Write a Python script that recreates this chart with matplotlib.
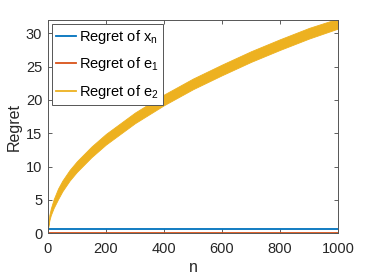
import matplotlib.pyplot as plt

plt.rcParams['font.family'] = ['Liberation Sans', 'DejaVu Sans']
plt.rcParams['mathtext.fontset'] = 'custom'
plt.rcParams['mathtext.rm'] = 'Liberation Sans'

# values
n_pts = [0, 5, 10, 20, 35, 50, 75, 100, 150, 200, 300, 400, 500, 600, 700, 800, 900, 1000]
e2_low = [0.5, 1.9, 2.7, 3.8, 5.1, 6.3, 7.9, 9.2, 11.4, 13.3, 16.5, 19.2, 21.6, 23.7, 25.7, 27.5, 29.2, 30.7]
e2_high = [0.7, 2.7, 3.7, 5.1, 6.7, 7.9, 9.5, 10.8, 13.0, 14.9, 18.1, 20.8, 23.2, 25.3, 27.3, 29.1, 30.8, 32.2]
n_ends = [0, 1000]
xn_regret = [0.6, 0.6]
e1_regret = [0.05, 0.05]

blue = '#0072BD'
red = '#D95319'
yellow = '#EDB120'

fig = plt.figure(figsize=(3.74, 2.8), dpi=100)
ax = fig.add_axes([0.128, 0.167, 0.776, 0.762])

ax.plot(n_ends, xn_regret, color=blue, lw=1.3, label='Regret of x$_\\mathregular{n}$')
ax.plot(n_ends, e1_regret, color=red, lw=1.3, label='Regret of e$_\\mathregular{1}$')
ax.fill_between(n_pts, e2_low, e2_high, color=yellow, lw=0.6, edgecolor=yellow)
ax.plot([], [], color=yellow, lw=1.3, label='Regret of e$_\\mathregular{2}$')

ax.set_xlim(0, 1000)
ax.set_ylim(0, 32)
ax.set_xticks(range(0, 1001, 200))
ax.set_yticks(range(0, 31, 5))
ax.tick_params(direction='in', top=True, right=True, length=3, width=0.6,
               color='#444444', labelsize=10.5, labelcolor='#262626')
ax.tick_params(axis='x', pad=6)
ax.tick_params(axis='y', pad=4)
for s in ax.spines.values():
    s.set_color('#555555')
    s.set_linewidth(0.7)

ax.set_xlabel('n', fontsize=11.5, color='#262626', labelpad=3)
ax.set_ylabel('Regret', fontsize=11.5, color='#262626', labelpad=3)

leg = ax.legend(loc='upper left', fontsize=10.5, fancybox=False, framealpha=1,
                edgecolor='#555555', handlelength=1.4, handletextpad=0.2,
                borderpad=0.3, labelspacing=0.65, borderaxespad=0.25)
leg.get_frame().set_linewidth(0.7)

fig.savefig('out.png', dpi=100)
